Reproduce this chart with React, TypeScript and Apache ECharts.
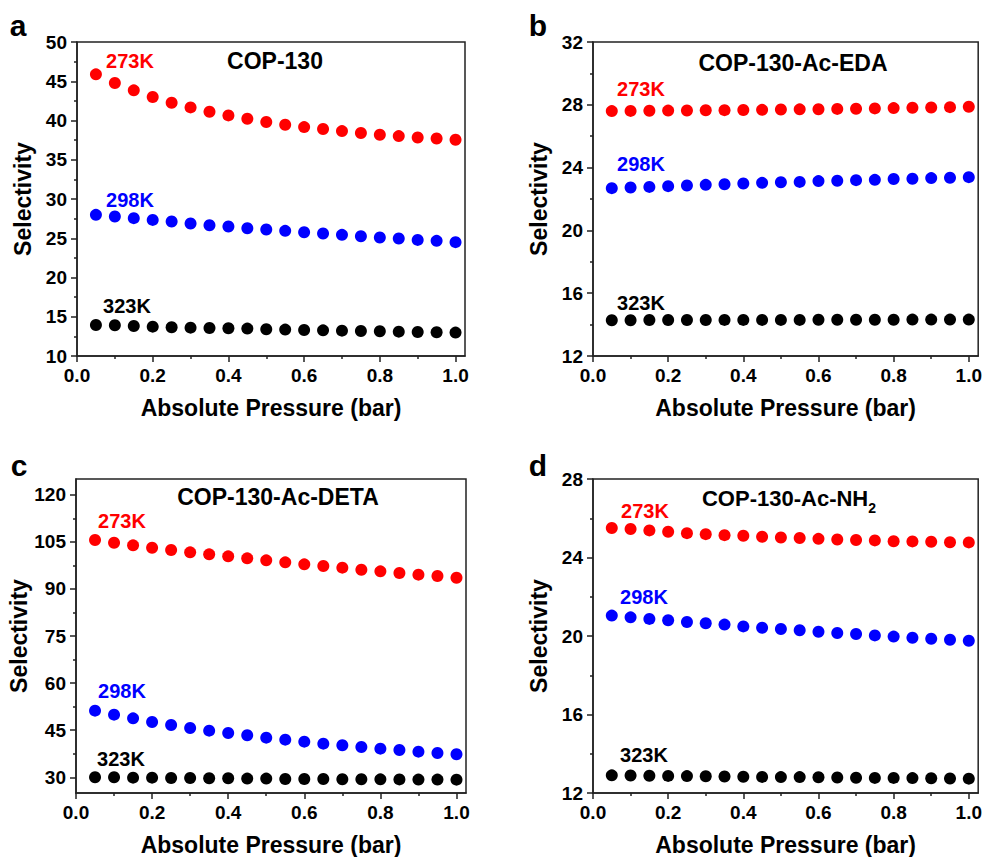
import React, { useEffect, useRef } from "react";
import * as echarts from "echarts";

const pressure = [0.05, 0.1, 0.15, 0.2, 0.25, 0.3, 0.35, 0.4, 0.45, 0.5, 0.55, 0.6, 0.65, 0.7, 0.75, 0.8, 0.85, 0.9, 0.95, 1.0];

// Panel a: COP-130
const a273 = [45.88, 44.77, 43.84, 42.99, 42.26, 41.67, 41.12, 40.65, 40.22, 39.8, 39.46, 39.16, 38.91, 38.65, 38.4, 38.18, 38.01, 37.84, 37.71, 37.55];
const a298 = [27.98, 27.77, 27.56, 27.34, 27.13, 26.88, 26.66, 26.49, 26.28, 26.11, 25.94, 25.77, 25.6, 25.43, 25.26, 25.09, 24.96, 24.79, 24.67, 24.5];
const a323 = [13.95, 13.91, 13.83, 13.74, 13.66, 13.61, 13.57, 13.53, 13.49, 13.4, 13.36, 13.32, 13.27, 13.23, 13.19, 13.15, 13.1, 13.06, 13.02, 12.98];

// Panel b: COP-130-Ac-EDA
const b273 = [27.6, 27.61, 27.62, 27.63, 27.64, 27.65, 27.66, 27.67, 27.68, 27.7, 27.71, 27.72, 27.74, 27.75, 27.77, 27.79, 27.81, 27.83, 27.85, 27.88];
const b298 = [22.69, 22.73, 22.77, 22.82, 22.86, 22.9, 22.94, 22.99, 23.03, 23.07, 23.09, 23.14, 23.16, 23.2, 23.22, 23.27, 23.29, 23.33, 23.35, 23.39];
const b323 = [14.28, 14.28, 14.29, 14.29, 14.29, 14.29, 14.3, 14.3, 14.3, 14.3, 14.3, 14.31, 14.31, 14.31, 14.31, 14.31, 14.32, 14.32, 14.32, 14.32];

// Panel c: COP-130-Ac-DETA
const c273 = [105.57, 104.72, 103.87, 103.12, 102.38, 101.64, 101.0, 100.37, 99.73, 99.09, 98.45, 97.82, 97.29, 96.76, 96.12, 95.59, 95.06, 94.53, 94.1, 93.57];
const c298 = [51.23, 49.95, 48.78, 47.62, 46.66, 45.71, 44.86, 44.11, 43.37, 42.63, 41.99, 41.36, 40.72, 40.19, 39.66, 39.13, 38.7, 38.17, 37.75, 37.32];
const c323 = [30.0, 30.0, 29.89, 29.89, 29.79, 29.79, 29.68, 29.68, 29.58, 29.58, 29.47, 29.47, 29.45, 29.36, 29.36, 29.34, 29.33, 29.26, 29.26, 29.25];

// Panel d: COP-130-Ac-NH2
const d273 = [25.5, 25.45, 25.38, 25.31, 25.24, 25.19, 25.14, 25.11, 25.06, 25.02, 24.99, 24.95, 24.92, 24.89, 24.87, 24.83, 24.82, 24.8, 24.78, 24.77];
const d298 = [21.04, 20.95, 20.87, 20.8, 20.71, 20.65, 20.58, 20.49, 20.42, 20.36, 20.29, 20.22, 20.15, 20.1, 20.03, 19.97, 19.91, 19.86, 19.81, 19.76];
const d323 = [12.9, 12.89, 12.88, 12.87, 12.86, 12.85, 12.84, 12.83, 12.82, 12.81, 12.81, 12.8, 12.79, 12.78, 12.77, 12.77, 12.76, 12.75, 12.74, 12.73];

// Tick labels
const xMajor = [0, 0.2, 0.4, 0.6, 0.8, 1.0];
const xMinor = [0.1, 0.3, 0.5, 0.7, 0.9];
const yMajorA = [10, 15, 20, 25, 30, 35, 40, 45, 50];
const yMinorA = [12.5, 17.5, 22.5, 27.5, 32.5, 37.5, 42.5, 47.5];
const yMajorB = [12, 16, 20, 24, 28, 32];
const yMinorB = [14, 18, 22, 26, 30];
const yMajorC = [30, 45, 60, 75, 90, 105, 120];
const yMinorC = [37.5, 52.5, 67.5, 82.5, 97.5, 112.5];
const yMajorD = [12, 16, 20, 24, 28];
const yMinorD = [14, 18, 22, 26];

const temps = ["273K", "298K", "323K"];
const colors = ["#ff0000", "#0000ff", "#000000"];
const titles = ["COP-130", "COP-130-Ac-EDA", "COP-130-Ac-DETA", "{m|COP-130-Ac-NH}{s|2}"];
const letters = ["a", "b", "c", "d"];

const FONT = "'Liberation Sans', Arial, Helvetica, sans-serif";
const AXIS_COLOR = "#222";

const panels = [
  {
    grid: { left: 77, top: 42, width: 388, height: 314 },
    yMin: 10, yMax: 50, yMajor: yMajorA, yMinor: yMinorA,
    series: [a273, a298, a323],
    titlePos: [275, 60.5], letterPos: [18, 25],
    tempPos: [[130, 60.5], [130, 199.5], [127, 306]],
  },
  {
    grid: { left: 593, top: 42, width: 390, height: 314 },
    yMin: 12, yMax: 32, yMajor: yMajorB, yMinor: yMinorB,
    series: [b273, b298, b323],
    titlePos: [793, 62.5], letterPos: [538, 25],
    tempPos: [[641, 88.5], [641, 163.5], [641, 303]],
  },
  {
    grid: { left: 76, top: 479, width: 390, height: 314 },
    yMin: 25, yMax: 125, yMajor: yMajorC, yMinor: yMinorC,
    series: [c273, c298, c323],
    titlePos: [278, 496.5], letterPos: [19, 465],
    tempPos: [[122, 520.5], [122, 690.5], [121, 758.5]],
  },
  {
    grid: { left: 593, top: 479, width: 390, height: 314 },
    yMin: 12, yMax: 28, yMajor: yMajorD, yMinor: yMinorD,
    series: [d273, d298, d323],
    titlePos: [789, 498], letterPos: [538, 465],
    tempPos: [[645, 510.5], [644, 596.5], [644, 755]],
  },
];

function buildOption() {
  const grid: any[] = [];
  const xAxis: any[] = [];
  const yAxis: any[] = [];
  const series: any[] = [];
  const graphic: any[] = [];

  panels.forEach((p, i) => {
    grid.push({
      ...p.grid,
      show: true,
      borderColor: AXIS_COLOR,
      borderWidth: 1.5,
      backgroundColor: "transparent",
      containLabel: false,
    });
    const labelStyle = {
      fontSize: 19,
      fontWeight: "bold",
      color: "#000",
      fontFamily: FONT,
      margin: 10,
    };
    xAxis.push({
      type: "value",
      gridIndex: i,
      min: 0,
      max: 1.025,
      position: "bottom",
      axisLine: { show: true, onZero: false, lineStyle: { color: AXIS_COLOR, width: 1.5 } },
      axisTick: { show: true, inside: false, length: 6, customValues: xMajor, lineStyle: { color: AXIS_COLOR, width: 1.5 } },
      axisLabel: { ...labelStyle, customValues: xMajor, formatter: (v: number) => v.toFixed(1) },
      splitLine: { show: false },
      name: "Absolute Pressure (bar)",
      nameLocation: "middle",
      nameGap: 40,
      nameTextStyle: { fontSize: 23, fontWeight: "bold", color: "#000", fontFamily: FONT },
    });
    xAxis.push({
      type: "value",
      gridIndex: i,
      min: 0,
      max: 1.025,
      position: "bottom",
      axisLine: { show: false, onZero: false },
      axisTick: { show: true, inside: false, length: 3, customValues: xMinor, lineStyle: { color: AXIS_COLOR, width: 1.5 } },
      axisLabel: { show: false },
      splitLine: { show: false },
    });
    yAxis.push({
      type: "value",
      gridIndex: i,
      min: p.yMin,
      max: p.yMax,
      position: "left",
      axisLine: { show: true, onZero: false, lineStyle: { color: AXIS_COLOR, width: 1.5 } },
      axisTick: { show: true, inside: false, length: 6, customValues: p.yMajor, lineStyle: { color: AXIS_COLOR, width: 1.5 } },
      axisLabel: { ...labelStyle, customValues: p.yMajor },
      splitLine: { show: false },
      name: "Selectivity",
      nameLocation: "middle",
      nameGap: 43,
      nameTextStyle: { fontSize: 23, fontWeight: "bold", color: "#000", fontFamily: FONT },
    });
    yAxis.push({
      type: "value",
      gridIndex: i,
      min: p.yMin,
      max: p.yMax,
      position: "left",
      axisLine: { show: false, onZero: false },
      axisTick: { show: true, inside: false, length: 3, customValues: p.yMinor, lineStyle: { color: AXIS_COLOR, width: 1.5 } },
      axisLabel: { show: false },
      splitLine: { show: false },
    });

    p.series.forEach((vals, k) => {
      series.push({
        type: "scatter",
        name: `${titles[i]} ${temps[k]}`,
        xAxisIndex: 2 * i,
        yAxisIndex: 2 * i,
        symbol: "circle",
        symbolSize: 12,
        itemStyle: { color: colors[k], opacity: 1 },
        data: pressure.map((x, j) => [x, vals[j]]),
      });
      graphic.push({
        type: "text",
        x: p.tempPos[k][0],
        y: p.tempPos[k][1],
        style: {
          text: temps[k],
          fill: colors[k],
          fontSize: 20,
          fontWeight: "bold",
          fontFamily: FONT,
          align: "center",
          verticalAlign: "middle",
        },
      });
    });

    const isRich = i === 3;
    graphic.push({
      type: "text",
      x: p.titlePos[0],
      y: p.titlePos[1],
      style: isRich
        ? {
            text: titles[i],
            fill: "#000",
            align: "center",
            verticalAlign: "middle",
            rich: {
              m: { fontSize: 22, fontWeight: "bold", fontFamily: FONT, fill: "#000", lineHeight: 34, verticalAlign: "middle" },
              s: { fontSize: 14, fontWeight: "bold", fontFamily: FONT, fill: "#000", lineHeight: 14, verticalAlign: "bottom" },
            },
          }
        : {
            text: titles[i],
            fill: "#000",
            fontSize: 23,
            fontWeight: "bold",
            fontFamily: FONT,
            align: "center",
            verticalAlign: "middle",
          },
    });
    graphic.push({
      type: "text",
      x: p.letterPos[0],
      y: p.letterPos[1],
      style: {
        text: letters[i],
        fill: "#000",
        fontSize: 30,
        fontWeight: "bold",
        fontFamily: FONT,
        align: "center",
        verticalAlign: "middle",
      },
    });
  });

  return {
    animation: false,
    backgroundColor: "#ffffff",
    grid,
    xAxis,
    yAxis,
    series,
    graphic,
  };
}

export default function App() {
  const ref = useRef<HTMLDivElement>(null);
  useEffect(() => {
    if (!ref.current) return;
    const chart = echarts.init(ref.current, undefined, { renderer: "svg" });
    chart.setOption(buildOption() as any);
    return () => chart.dispose();
  }, []);
  return (
    <div
      ref={ref}
      style={{ position: "absolute", left: 0, top: 0, width: 985, height: 857, background: "#fff" }}
    />
  );
}
